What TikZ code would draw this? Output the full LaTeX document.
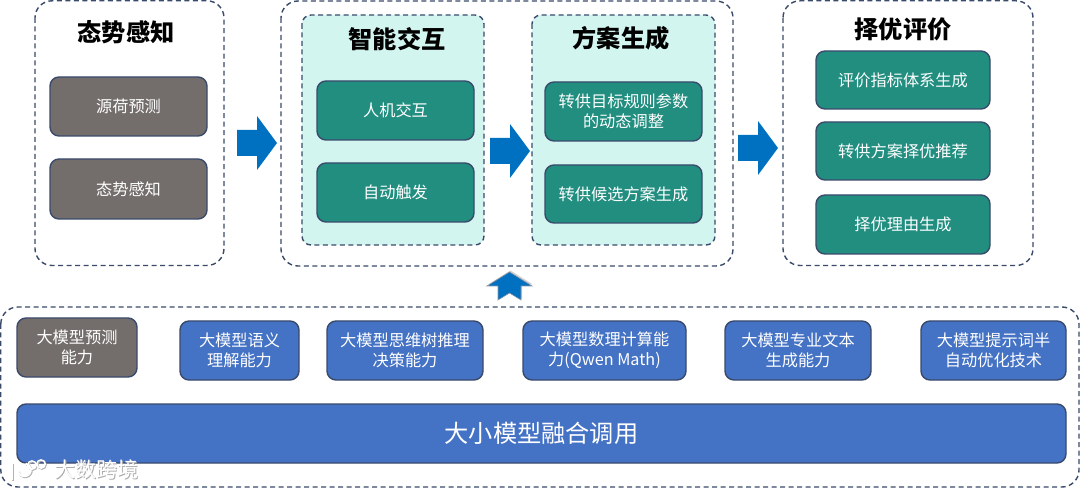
\documentclass[tikz,border=0pt]{standalone}
\usepackage{fontspec}
\setmainfont{Noto Sans CJK SC}
\usetikzlibrary{shadows}
\definecolor{edgeC}{HTML}{3A4A6B}
\definecolor{greyC}{HTML}{736E6C}
\definecolor{tealC}{HTML}{218E80}
\definecolor{blueC}{HTML}{4472C4}
\definecolor{arrC}{HTML}{0070C0}
\definecolor{paleC}{HTML}{D3F5F0}
\tikzset{
  x=1pt,y=-1pt,
  box/.style={draw=edgeC,line width=1.4pt,rounded corners=9pt,inner sep=0pt,text=white,align=center,font=\fontsize{16.2}{20}\selectfont},
  greybox/.style={box,fill=greyC},
  tealbox/.style={box,fill=tealC},
  bluebox/.style={box,fill=blueC},
  frame/.style={draw=edgeC,line width=1.4pt,dash pattern=on 5pt off 3.5pt,rounded corners=17pt},
  pale/.style={frame,fill=paleC,rounded corners=9pt},
  heading/.style={font=\fontsize{24.2}{28}\selectfont\bfseries,text=black,inner sep=0pt},
  rarrow/.style={fill=arrC,draw=none},
  mark text/.style={inner sep=0pt,font=\fontsize{21}{24}\selectfont},
}
\newcommand{\rectnode}[6]{\node[#1,minimum width=#4-#2,minimum height=#5-#3] (#6) at ({(#2+#4)/2},{(#3+#5)/2})}
\begin{document}
\begin{tikzpicture}
\useasboundingbox (0,0) rectangle (1080,489);
\fill[white] (0,0) rectangle (1080,489);
% frames
\draw[frame] (35,0.8) rectangle (224,265.5);
\draw[frame] (281,1) rectangle (733,266);
\draw[frame] (783,0.8) rectangle (1033,265.5);
\draw[frame] (0.8,307) rectangle (1079,487);
\draw[pale] (302,15) rectangle (484,245);
\draw[pale] (532,15) rectangle (715,245);
% headings
\node[heading] (t1) at (126,32) {态势感知};
\node[heading] (t2) at (397,39) {智能交互};
\node[heading] (t3) at (621,38) {方案生成};
\node[heading] (t4) at (903,29) {择优评价};
% left
\rectnode{greybox}{50}{77}{207}{136}{a1} {源荷预测};
\rectnode{greybox}{50}{159}{207}{219}{a2} {态势感知};
% middle
\rectnode{tealbox}{317}{81}{474}{140}{b1} {人机交互};
\rectnode{tealbox}{317}{163}{474}{222}{b2} {自动触发};
\rectnode{tealbox}{545}{82}{702}{141}{c1} {转供目标规则参数\\的动态调整};
\rectnode{tealbox}{545}{165}{702}{223}{c2} {转供候选方案生成};
% right
\rectnode{tealbox}{816}{51}{990}{109}{d1} {评价指标体系生成};
\rectnode{tealbox}{816}{122}{990}{180}{d2} {转供方案择优推荐};
\rectnode{tealbox}{816}{195}{990}{254}{d3} {择优理由生成};
% bottom
\rectnode{greybox}{17}{318}{137}{377}{e1} {大模型预测\\能力};
\rectnode{bluebox}{180}{321}{299}{380}{e2} {大模型语义\\理解能力};
\rectnode{bluebox}{327}{321}{483}{380}{e3} {大模型思维树推理\\决策能力};
\rectnode{bluebox}{523}{321}{686}{380}{e4} {大模型数理计算能\\力(Qwen Math)};
\rectnode{bluebox}{725}{321}{871}{380}{e5} {大模型专业文本\\生成能力};
\rectnode{bluebox}{921}{321}{1066}{380}{e6} {大模型提示词半\\自动优化技术};
\rectnode{bluebox,font=\fontsize{24.2}{28}\selectfont}{17}{404}{1066}{463}{f} {大小模型融合调用};
% block arrows
\foreach \cx/\cy in {237/143, 490/151, 738/148}{
  \fill[rarrow,shift={(\cx,\cy)}] (0,-13) -- (20,-13) -- (20,-27) -- (40,0) -- (20,27) -- (20,13) -- (0,13) -- cycle;
}
\fill[arrC,draw=edgeC!60,line width=.6pt,drop shadow={shadow xshift=1pt,shadow yshift=1.5pt,opacity=.35}]
  (509.5,272) -- (532,286) -- (521,286) -- (521,300) -- (509.5,293) -- (498,300) -- (498,286) -- (487,286) -- cycle;
% watermark
\node[mark text,text=black!32] (w2) at (97.2,470.4) {大数跨境};
\node[mark text,text=white] (w) at (96,469.2) {大数跨境};
\begin{scope}[shift={(0.9,0.9)},black!30,line width=1.8pt]
\draw (12,463) -- (12,480) (18,471) arc (170:-80:6.5);
\draw[line width=1.4pt] (32,465) circle (4.2) (41,464) circle (4.2);
\end{scope}
\begin{scope}[white,line width=1.8pt]
\draw (12,463) -- (12,480) (18,471) arc (170:-80:6.5);
\draw[line width=1.4pt] (32,465) circle (4.2) (41,464) circle (4.2);
\end{scope}
\end{tikzpicture}
\end{document}
